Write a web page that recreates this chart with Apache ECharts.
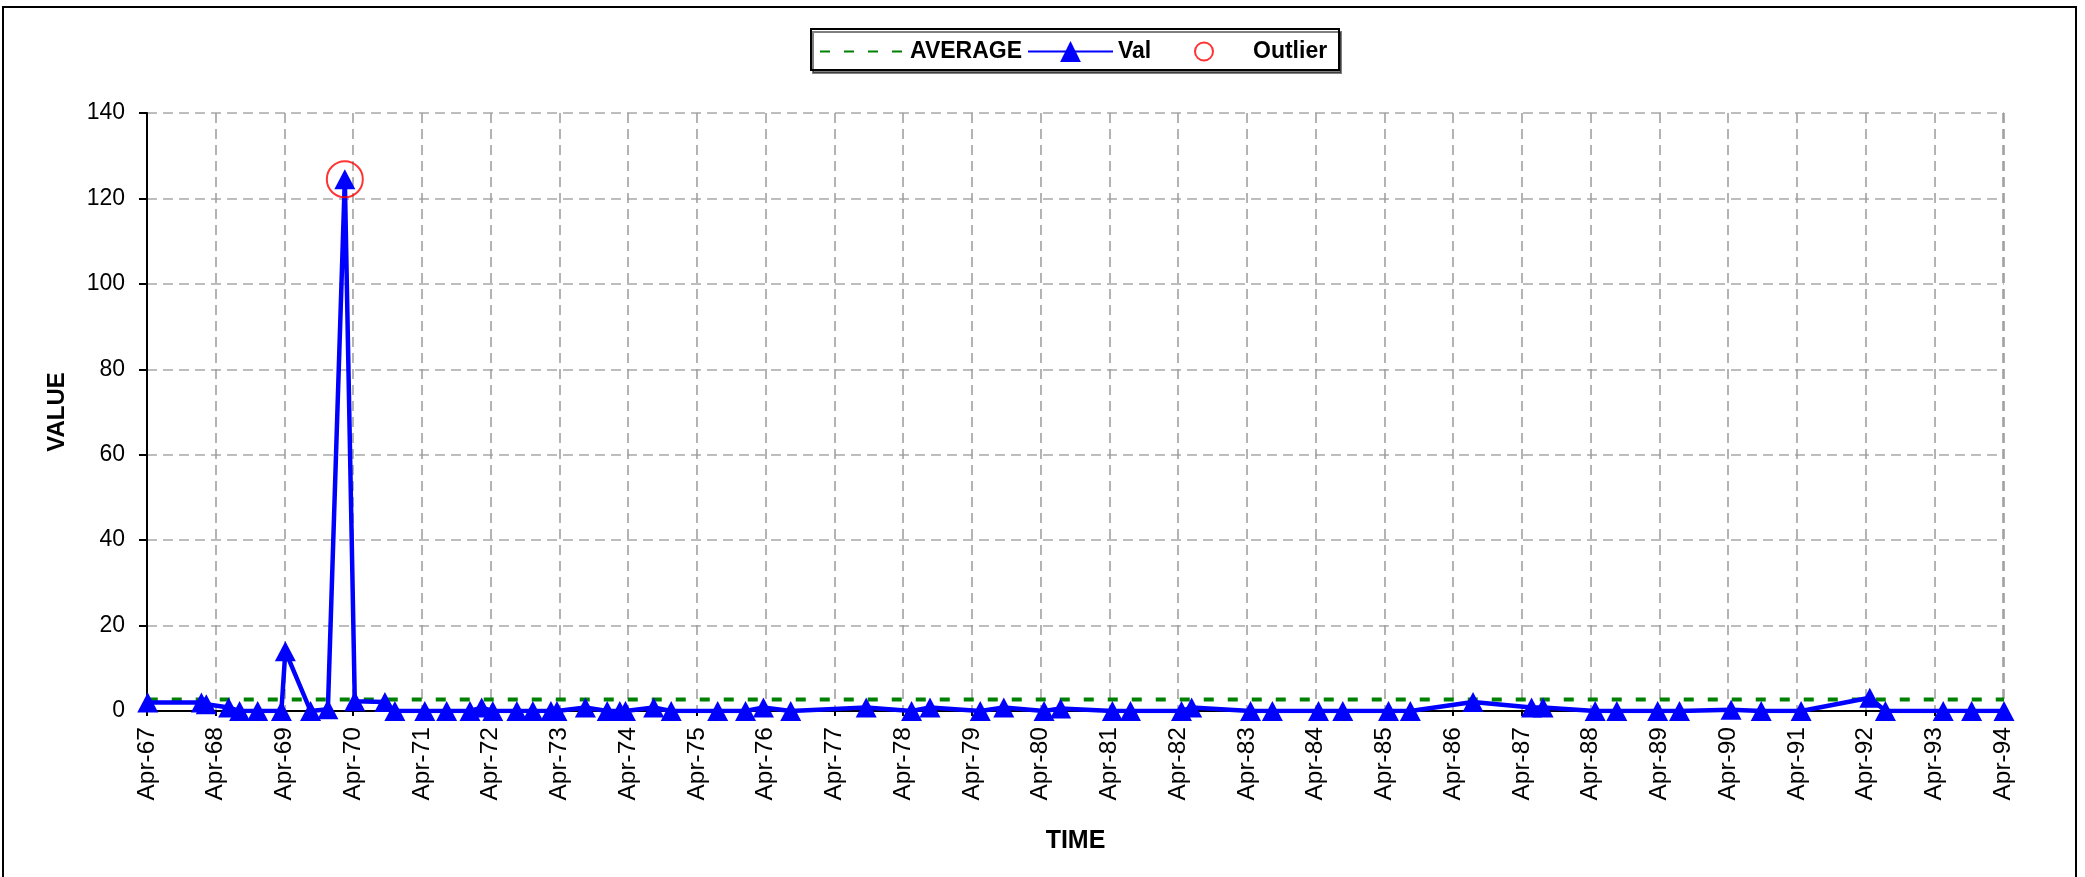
<!DOCTYPE html>
<html>
<head>
<meta charset="utf-8">
<style>
  html, body { margin: 0; padding: 0; background: #fff; }
  #chart { width: 2085px; height: 877px; }
</style>
<script src="https://cdn.jsdelivr.net/npm/echarts@6/dist/echarts.min.js"></script>
</head>
<body>
<div id="chart"></div>
<script>
// sample dates and values
const dates = [
  '1967-04-05', '1968-01-15', '1968-02-10', '1968-06-08', '1968-08-05', '1968-11-09',
  '1969-03-15', '1969-04-05', '1969-08-17', '1969-11-17', '1970-02-15', '1970-04-09',
  '1970-09-16', '1970-11-08', '1971-04-16', '1971-08-10', '1971-12-12', '1972-02-12',
  '1972-04-11', '1972-08-17', '1972-11-10', '1973-02-14', '1973-03-18', '1973-08-16',
  '1973-12-10', '1974-02-15', '1974-03-17', '1974-08-14', '1974-11-15', '1975-07-20',
  '1975-12-15', '1976-03-19', '1976-08-11', '1977-09-16', '1978-05-15', '1978-08-21',
  '1979-05-15', '1979-09-17', '1980-04-18', '1980-07-15', '1981-04-16', '1981-07-21',
  '1982-04-18', '1982-06-11', '1983-04-20', '1983-08-14', '1984-04-15', '1984-08-22',
  '1985-04-22', '1985-08-16', '1986-07-15', '1987-05-22', '1987-07-22', '1988-04-24',
  '1988-08-17', '1989-03-22', '1989-07-16', '1990-04-16', '1990-09-23', '1991-04-23',
  '1992-04-22', '1992-07-14', '1993-05-17', '1993-10-15', '1994-04-05'
]
const values = [
  2.0, 2.0, 1.6, 0.8, 0, 0,
  0, 14, 0, 0.4, 124.5, 2.3,
  2.1, 0, 0, 0, 0, 0.8,
  0, 0, 0, 0, 0, 0.8,
  0, 0, 0, 0.8, 0, 0,
  0, 0.8, 0, 0.8, 0, 0.8,
  0, 0.8, 0, 0.6, 0, 0,
  0, 0.8, 0, 0, 0, 0,
  0, 0, 2.1, 0.8, 0.8, 0,
  0, 0, 0, 0.3, 0, 0,
  3.1, 0, 0, 0, 0
]
const outlierDates = ['1970-02-15']
const outlierValues = [124.5]
const averageValue = 2.7

const yearLabels = [
  'Apr-67', 'Apr-68', 'Apr-69', 'Apr-70', 'Apr-71', 'Apr-72', 'Apr-73', 'Apr-74',
  'Apr-75', 'Apr-76', 'Apr-77', 'Apr-78', 'Apr-79', 'Apr-80', 'Apr-81', 'Apr-82',
  'Apr-83', 'Apr-84', 'Apr-85', 'Apr-86', 'Apr-87', 'Apr-88', 'Apr-89', 'Apr-90',
  'Apr-91', 'Apr-92', 'Apr-93', 'Apr-94'
]

// x position = years since 1 Apr 1967 (so the yearly ticks fall on Apr)
const origin = Date.UTC(1967, 3, 1)
function toYears(d) {
  const p = d.split('-').map(Number)
  return (Date.UTC(p[0], p[1] - 1, p[2]) - origin) / (365.25 * 86400000)
}

const valData = dates.map((d, i) => [toYears(d), values[i]])
const outlierData = outlierDates.map((d, i) => [toYears(d), outlierValues[i]])
const avgData = [
  [toYears(dates[0]), averageValue],
  [toYears(dates[dates.length - 1]), averageValue]
]

const font = 'Liberation Sans, Arial, sans-serif'
const legendText = { fontFamily: font, fontWeight: 'bold', fontSize: 23, color: '#000' }
// one legend per entry so each sits where it does in the original
function legendAt(left, top, name, width, height) {
  return {
    top: top,
    left: left,
    padding: 0,
    itemWidth: width,
    itemHeight: height,
    z: 5,
    textStyle: legendText,
    data: [name]
  }
}

const chart = echarts.init(document.getElementById('chart'))
chart.setOption({
  backgroundColor: '#fff',
  animation: false,
  graphic: [
    {
      type: 'rect',
      silent: true,
      z: 0,
      shape: { x: 3, y: 7, width: 2073, height: 880 },
      style: { fill: 'none', stroke: '#000', lineWidth: 2 }
    },
    {
      type: 'rect',
      silent: true,
      z: 1,
      shape: { x: 811, y: 29, width: 528, height: 41 },
      style: {
        fill: '#fff', stroke: '#000', lineWidth: 2,
        shadowColor: 'rgba(0,0,0,0.5)', shadowOffsetX: 2, shadowOffsetY: 3, shadowBlur: 0
      }
    }
  ],
  legend: [
    legendAt(819, 40, 'AVERAGE', 85, 18),
    legendAt(1027, 40, 'Val', 85, 26),
    legendAt(1194, 40, 'Outlier', 88, 18)
  ],
  grid: {
    left: 147,
    right: 81,
    top: 113,
    bottom: 166
  },
  xAxis: {
    type: 'value',
    min: 0,
    max: toYears(dates[dates.length - 1]),
    interval: 1,
    name: 'TIME',
    nameLocation: 'middle',
    nameGap: 118,
    nameTextStyle: { fontFamily: font, fontWeight: 'bold', fontSize: 25, color: '#000' },
    axisLine: { onZero: false, lineStyle: { color: '#000', width: 2 } },
    axisTick: { show: true, length: 5, lineStyle: { color: '#000', width: 2 } },
    axisLabel: {
      rotate: 90,
      margin: 16,
      showMaxLabel: false,
      fontFamily: font,
      fontSize: 24.5,
      color: '#000',
      formatter: v => yearLabels[Math.round(v)] || ''
    },
    splitLine: { show: true, lineStyle: { color: '#9a9a9a', type: [10, 6], width: 1.5 } }
  },
  yAxis: {
    type: 'value',
    min: 0,
    max: 140,
    interval: 20,
    name: 'VALUE',
    nameLocation: 'middle',
    nameGap: 78,
    nameRotate: 90,
    nameTextStyle: { fontFamily: font, fontWeight: 'bold', fontSize: 24, color: '#000' },
    axisLine: { show: true, lineStyle: { color: '#000', width: 2 } },
    axisTick: { show: true, length: 8, lineStyle: { color: '#000', width: 2 } },
    axisLabel: { margin: 22, fontFamily: font, fontSize: 23, color: '#000' },
    splitLine: { show: true, lineStyle: { color: '#a8a8a8', type: [10, 6], width: 1.5 } }
  },
  series: [
    {
      name: 'AVERAGE',
      type: 'line',
      data: avgData,
      showSymbol: false,
      symbol: 'none',
      lineStyle: { color: '#008000', width: 4, type: [10, 14] },
      itemStyle: { color: '#008000', opacity: 0 },
      z: 2
    },
    {
      name: 'Val',
      type: 'line',
      data: valData,
      symbol: 'triangle',
      symbolSize: [21, 20],
      lineStyle: { color: '#0000ff', width: 4.5 },
      itemStyle: { color: '#0000ff' },
      z: 3
    },
    {
      name: 'Outlier',
      type: 'scatter',
      data: outlierData,
      symbol: 'circle',
      symbolSize: 36,
      itemStyle: { color: 'rgba(255,255,255,0)', borderColor: '#ff0000', borderWidth: 2 },
      z: 4
    }
  ]
})
</script>
</body>
</html>
